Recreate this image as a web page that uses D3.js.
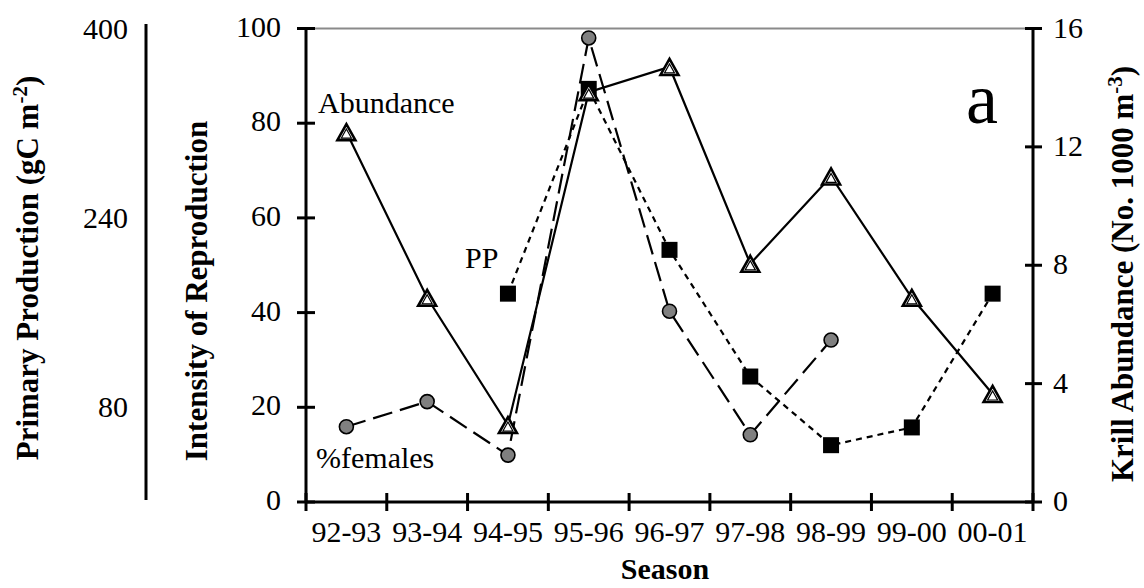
<!DOCTYPE html>
<html>
<head>
<meta charset="utf-8">
<script src="https://cdn.jsdelivr.net/npm/d3@7"></script>
<style>
  html, body { margin: 0; padding: 0; background: #fff; }
  svg { display: block; }
  text { font-family: "Liberation Serif", "Times New Roman", Times, serif; }
</style>
</head>
<body>
<svg id="chart" width="1144" height="588"></svg>
<script>
// ---- data ----
const seasons = ["92-93","93-94","94-95","95-96","96-97","97-98","98-99","99-00","00-01"];
const abundance = [12.5, 6.9, 2.6, 13.85, 14.7, 8.05, 11.0, 6.9, 3.65];   // No. 1000 m^-3 (right axis)
const females   = [15.9, 21.2, 9.9, 98, 40.3, 14.2, 34.2, null, null];   // Intensity of reproduction (left axis)
const primaryProd = [null, null, 176, 349, 213, 106, 48, 63, 176];       // gC m^-2 (far-left axis)
const leftTicks = [0, 20, 40, 60, 80, 100];
const rightTicks = [0, 4, 8, 12, 16];
const ppTicks = [80, 240, 400];

// ---- layout ----
const svg = d3.select("#chart");
const L = 306, R = 1033, T = 28.5, B = 502;
const FONT = "Liberation Serif, Times New Roman, Times, serif";
const TICK_FS = 30, TITLE_FS = 31;

const x = d3.scaleBand().domain(seasons).range([L, R]).paddingInner(0).paddingOuter(0);
const cx = s => x(s) + x.bandwidth() / 2;
const yL = d3.scaleLinear().domain([0, 100]).range([B, T]);
const yR = d3.scaleLinear().domain([0, 16]).range([B, T]);
const yPP = d3.scaleLinear().domain([0, 400]).range([B, T]);

const g = svg.append("g").attr("font-family", FONT);

// top border (gray)
g.append("line").attr("x1", L).attr("x2", R).attr("y1", T).attr("y2", T)
  .attr("stroke", "#8a8a8a").attr("stroke-width", 2);

// axes lines
const axisStroke = 3;
g.append("line").attr("x1", L).attr("x2", L).attr("y1", T - 1).attr("y2", B + 1)
  .attr("stroke", "#000").attr("stroke-width", axisStroke);
g.append("line").attr("x1", R).attr("x2", R).attr("y1", T - 1).attr("y2", B + 1)
  .attr("stroke", "#000").attr("stroke-width", axisStroke);
g.append("line").attr("x1", L - 1).attr("x2", R + 1).attr("y1", B).attr("y2", B)
  .attr("stroke", "#000").attr("stroke-width", axisStroke);

// left ticks + labels
leftTicks.forEach(t => {
  g.append("line").attr("x1", L - 9).attr("x2", L + 9).attr("y1", yL(t)).attr("y2", yL(t))
    .attr("stroke", "#000").attr("stroke-width", axisStroke);
  g.append("text").attr("x", 281).attr("y", yL(t) + 8).attr("text-anchor", "end")
    .attr("font-size", TICK_FS).text(t);
});
// right ticks + labels
rightTicks.forEach(t => {
  g.append("line").attr("x1", R - 8).attr("x2", R + 9).attr("y1", yR(t)).attr("y2", yR(t))
    .attr("stroke", "#000").attr("stroke-width", axisStroke);
  g.append("text").attr("x", 1053).attr("y", yR(t) + 9).attr("text-anchor", "start")
    .attr("font-size", TICK_FS).text(t);
});
// bottom ticks at band boundaries
const boundaries = seasons.map(s => x(s)).concat([R]);
boundaries.forEach(bx => {
  g.append("line").attr("x1", bx).attr("x2", bx).attr("y1", B - 9).attr("y2", B + 9)
    .attr("stroke", "#000").attr("stroke-width", axisStroke);
});
seasons.forEach(s => {
  g.append("text").attr("x", cx(s)).attr("y", 542).attr("text-anchor", "middle")
    .attr("font-size", TICK_FS).text(s);
});

// primary production axis (detached)
g.append("line").attr("x1", 146).attr("x2", 146).attr("y1", 24).attr("y2", 500)
  .attr("stroke", "#000").attr("stroke-width", 3);
ppTicks.forEach(t => {
  g.append("text").attr("x", 128).attr("y", yPP(t) + 10).attr("text-anchor", "end")
    .attr("font-size", TICK_FS).text(t);
});

// axis titles
g.append("text").attr("x", 665).attr("y", 579).attr("text-anchor", "middle")
  .attr("font-size", 30).attr("font-weight", "bold").text("Season");

g.append("text").attr("transform", "translate(207,291) rotate(-90)")
  .attr("text-anchor", "middle").attr("font-size", TITLE_FS).attr("font-weight", "bold")
  .text("Intensity of Reproduction");

const ppTitle = g.append("text").attr("transform", "translate(38,268) rotate(-90)")
  .attr("text-anchor", "middle").attr("font-size", TITLE_FS).attr("font-weight", "bold");
ppTitle.append("tspan").text("Primary Production (gC m");
ppTitle.append("tspan").attr("dy", -11).attr("font-size", 21).text("-2");
ppTitle.append("tspan").attr("dy", 11).text(")");

const krTitle = g.append("text").attr("transform", "translate(1133,274) rotate(-90)")
  .attr("text-anchor", "middle").attr("font-size", TITLE_FS).attr("font-weight", "bold");
krTitle.append("tspan").text("Krill Abundance (No. 1000 m");
krTitle.append("tspan").attr("dy", -11).attr("font-size", 21).text("-3");
krTitle.append("tspan").attr("dy", 11).text(")");

// ---- series ----
const idx = d3.range(seasons.length);

// PP: dotted line with black squares
const ppLine = d3.line().defined(i => primaryProd[i] != null)
  .x(i => cx(seasons[i])).y(i => yPP(primaryProd[i]));
g.append("path").attr("d", ppLine(idx)).attr("fill", "none")
  .attr("stroke", "#000").attr("stroke-width", 2.2).attr("stroke-dasharray", "6,5");
g.selectAll(".sq").data(idx.filter(i => primaryProd[i] != null)).join("rect")
  .attr("x", i => cx(seasons[i]) - 8).attr("y", i => yPP(primaryProd[i]) - 8)
  .attr("width", 16).attr("height", 16).attr("fill", "#000");

// %females: long-dashed line with gray circles
const fLine = d3.line().defined(i => females[i] != null)
  .x(i => cx(seasons[i])).y(i => yL(females[i]));
g.append("path").attr("d", fLine(idx)).attr("fill", "none")
  .attr("stroke", "#000").attr("stroke-width", 2.2).attr("stroke-dasharray", "20,8");
g.selectAll(".ci").data(idx.filter(i => females[i] != null)).join("circle")
  .attr("cx", i => cx(seasons[i])).attr("cy", i => yL(females[i]))
  .attr("r", 7).attr("fill", "#808080").attr("stroke", "#000").attr("stroke-width", 1.6);

// Abundance: solid line with open triangles
const aLine = d3.line().x(i => cx(seasons[i])).y(i => yR(abundance[i]));
g.append("path").attr("d", aLine(idx)).attr("fill", "none")
  .attr("stroke", "#000").attr("stroke-width", 2.2);
const tri = (w, h) => `M0,${-h}L${w},${h}L${-w},${h}Z`;
const triG = g.selectAll(".tr").data(idx).join("g")
  .attr("transform", i => `translate(${cx(seasons[i])},${yR(abundance[i])})`);
triG.append("path").attr("d", tri(9, 8)).attr("fill", "#fff")
  .attr("stroke", "#000").attr("stroke-width", 2.6).attr("stroke-linejoin", "miter");
triG.append("path").attr("d", tri(5, 4.5)).attr("transform", "translate(0,1.5)").attr("fill", "none")
  .attr("stroke", "#000").attr("stroke-width", 1.2);

// in-plot labels
g.append("text").attr("x", 318).attr("y", 113).attr("font-size", 30).text("Abundance");
g.append("text").attr("x", 465).attr("y", 268).attr("font-size", 30).text("PP");
g.append("text").attr("x", 316).attr("y", 468).attr("font-size", 30).text("%females");
g.append("text").attr("x", 966).attr("y", 123).attr("font-size", 72).text("a");
</script>
</body>
</html>
